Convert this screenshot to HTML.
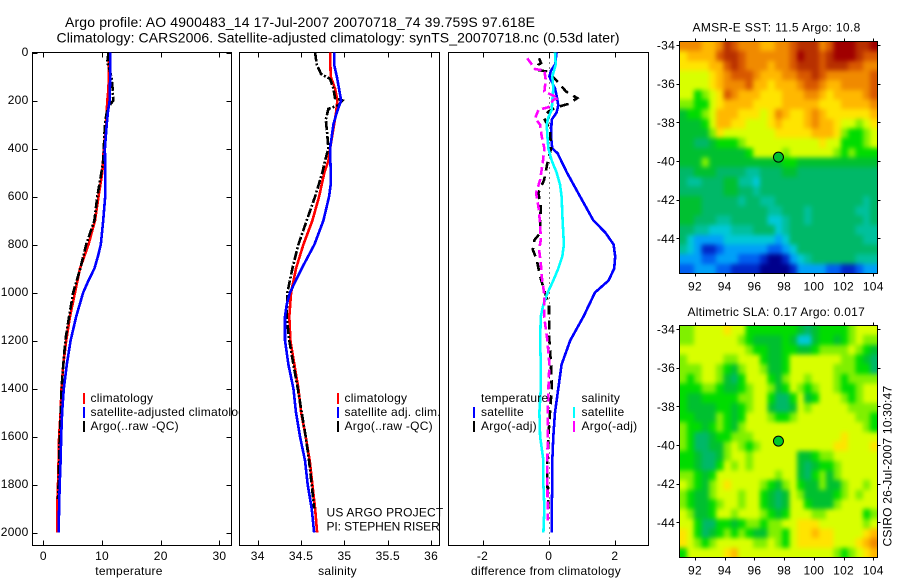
<!DOCTYPE html>
<html lang="en">
<head>
<meta charset="utf-8">
<title>Argo profile 4900483_14</title>
<style>
html,body{margin:0;padding:0;background:#fff;}
svg{display:block;}
text{font-family:"Liberation Sans",sans-serif;font-size:12px;fill:#000;letter-spacing:.25px;}
.big{font-size:14px;letter-spacing:0;}
</style>
</head>
<body>
<svg id="chart" xmlns="http://www.w3.org/2000/svg" width="900" height="580" viewBox="0 0 900 580">
  <defs>
    <filter id="mapSmooth" x="-5%" y="-5%" width="110%" height="110%" color-interpolation-filters="sRGB">
      <feGaussianBlur stdDeviation="2.4"/>
    </filter>
    <clipPath id="tempClip"><rect x="0" y="0" width="239" height="580"/></clipPath>
    <clipPath id="sstClip"><rect x="679.5" y="41.5" width="198" height="232"/></clipPath>
    <clipPath id="slaClip"><rect x="679.5" y="325.5" width="198" height="232"/></clipPath>
  </defs>
  <rect x="0" y="0" width="900" height="580" fill="#fff"/>
  <text class="big" x="65" y="27" textLength="470">Argo profile: AO 4900483_14 17-Jul-2007 20070718_74 39.759S 97.618E</text>
  <text class="big" x="56.5" y="42.5" textLength="563">Climatology: CARS2006. Satellite-adjusted climatology: synTS_20070718.nc (0.53d later)</text>
  <g id="layer"></g>
  <g id="legends">
    <g>
      <rect x="83" y="393" width="2" height="11" fill="#f00"/>
      <text x="90.5" y="402">climatology</text>
      <rect x="83" y="407" width="2" height="11" fill="#00f"/>
      <text clip-path="url(#tempClip)" x="90.5" y="416">satellite-adjusted climatology</text>
      <rect x="83" y="421" width="2" height="11" fill="#000"/>
      <text x="90.5" y="430">Argo(..raw -QC)</text>
    </g>
    <g>
      <rect x="337" y="393" width="2" height="11" fill="#f00"/>
      <text x="344.5" y="402">climatology</text>
      <rect x="337" y="407" width="2" height="11" fill="#00f"/>
      <text x="344.5" y="416">satellite adj. clim.</text>
      <rect x="337" y="421" width="2" height="11" fill="#000"/>
      <text x="344.5" y="430">Argo(..raw -QC)</text>
      <text x="326.5" y="516.5" textLength="117">US ARGO PROJECT</text>
      <text x="326.5" y="530.5" textLength="113.5">PI: STEPHEN RISER</text>
    </g>
    <g>
      <text x="481" y="402">temperature</text>
      <rect x="473" y="407" width="2" height="11" fill="#00f"/>
      <text x="481" y="416">satellite</text>
      <rect x="473" y="421" width="2" height="11" fill="#000"/>
      <text x="481" y="430">Argo(-adj)</text>
      <text x="581.5" y="402">salinity</text>
      <rect x="573" y="407" width="2" height="11" fill="#0ff"/>
      <text x="581.5" y="416">satellite</text>
      <rect x="573" y="421" width="2" height="11" fill="#f0f"/>
      <text x="581.5" y="430">Argo(-adj)</text>
    </g>
  </g>
  <text x="129" y="575" text-anchor="middle">temperature</text>
  <text x="337.5" y="575" text-anchor="middle">salinity</text>
  <text x="546" y="575" text-anchor="middle">difference from climatology</text>
  <text x="692.5" y="31.5" textLength="168">AMSR-E SST: 11.5 Argo: 10.8</text>
  <text x="687.5" y="316" textLength="177.5">Altimetric SLA: 0.17 Argo: 0.017</text>
  <text transform="translate(891.5,546.5) rotate(-90)" textLength="161">CSIRO 26-Jul-2007 10:30:47</text>
</svg>
<script>
// ---- axis tick values ----
var depthTicks = [0, 200, 400, 600, 800, 1000, 1200, 1400, 1600, 1800, 2000];
var tempTicks = [0, 10, 20, 30];
var salTicks = [34, 34.5, 35, 35.5, 36];
var salTickLabels = ['34', '34.5', '35', '35.5', '36'];
var diffTicks = [-2, 0, 2];
var lonTicks = [92, 94, 96, 98, 100, 102, 104];
var latTicks = [-34, -36, -38, -40, -42, -44];

// ---- temperature panel ----
var climTempDepth = [0,150,200,300,400,500,600,700,800,900,1000,1100,1200,1300,1400,1500,1600,1700,1800,1900,2000];
var climTemp = [11.2,11.1,10.9,10.7,10.3,10.05,9.4,8.8,7.7,6.25,5.4,4.55,3.9,3.4,3.1,2.95,2.7,2.6,2.5,2.35,2.35];
var satTempDepth = [0,100,200,250,300,400,500,600,700,800,850,900,950,1000,1100,1200,1300,1400,1500,1600,1700,1800,1900,2000];
var satTemp = [11.4,11.4,11.3,11.0,10.8,10.5,10.55,10.55,10.2,9.8,9.3,8.7,7.7,6.8,5.6,4.65,4.0,3.5,3.2,3.05,2.95,2.8,2.7,2.6];
var argoTempDepth = [0,40,100,150,200,220,250,300,400,450,500,600,700,800,900,1000,1100,1200,1300,1400,1500,1600,1700,1800,1860];
var argoTemp = [11.1,10.9,11.6,11.8,11.9,11.3,10.8,10.5,10.3,10.2,9.9,9.2,8.7,7.3,6.3,5.1,4.4,3.75,3.4,3.1,3.0,2.8,2.7,2.6,2.5];

// ---- salinity panel ----
var climSalDepth = [0,100,150,200,250,300,400,450,500,600,700,800,900,1000,1100,1200,1300,1400,1500,1600,1700,1800,1900,2000];
var climSal = [34.835,34.842,34.892,34.919,34.904,34.881,34.835,34.815,34.769,34.708,34.631,34.527,34.442,34.385,34.365,34.377,34.423,34.469,34.5,34.554,34.6,34.631,34.662,34.685];
var satSalDepth = [0,50,100,150,200,250,300,400,500,550,600,700,800,900,1000,1050,1100,1200,1300,1400,1500,1600,1700,1800,1900,2000];
var satSal = [34.885,34.881,34.912,34.938,34.962,34.912,34.873,34.835,34.842,34.842,34.823,34.758,34.654,34.508,34.373,34.335,34.315,34.315,34.354,34.412,34.442,34.488,34.546,34.577,34.623,34.65];
var argoSalDepth = [0,50,90,110,150,190,200,220,235,280,350,400,450,500,600,700,800,900,1000,1100,1200,1300,1400,1500,1600,1700,1800,1900];
var argoSal = [34.662,34.681,34.731,34.835,34.873,34.892,34.977,34.93,34.815,34.785,34.804,34.815,34.777,34.746,34.662,34.565,34.469,34.4,34.342,34.335,34.365,34.412,34.462,34.508,34.554,34.592,34.623,34.65];

// ---- difference panel ----
var satTempDiffDepth = [0,50,75,100,150,180,220,250,280,350,400,420,500,600,700,750,800,850,900,950,1000,1100,1200,1300,1400,1500,1600,1700,1800,1900,2000];
var satTempDiff = [.24,.19,.07,.02,.19,.24,.29,.24,.09,.07,.11,.27,.55,.95,1.35,1.71,1.96,2.01,1.98,1.81,1.40,1.05,.65,.39,.29,.19,.14,.11,.11,.09,.09];
var satSalDiffDepth = [0,50,100,150,200,240,270,300,350,400,450,500,550,600,700,800,850,900,950,1000,1050,1100,1200,1300,1400,1500,1600,1700,1800,1900,2000];
var satSalDiff = [.19,.21,.11,.14,.11,.09,-.01,-.06,-.04,-.01,.09,.24,.34,.39,.42,.46,.41,.29,.14,-.03,-.16,-.24,-.26,-.24,-.24,-.28,-.26,-.16,-.16,-.13,-.16];
var argoTempDiffDepth = [24,44,51,72,79,114,162,190,214,228,246,274,322,400,461,531,586,642,711,753,781,822,864,933,1003,1050,1100,1200,1300,1400,1500,1600,1700,1800,1900];
var argoTempDiff = [-.29,-.23,-.31,-.36,-.06,.22,.52,.86,.6,.24,-.01,-.14,.04,.07,-.04,-.14,-.31,-.24,-.26,-.26,-.43,-.48,-.36,-.26,-.11,.01,.01,.02,.07,.09,.04,-.01,-.04,-.04,-.01];
var argoSalDiffDepth = [24,44,69,75,114,162,190,197,228,239,274,301,350,400,461,531,586,642,711,781,822,878,933,1003,1050,1100,1200,1300,1400,1500,1600,1700,1800,1900,1950];
var argoSalDiff = [-.65,-.54,-.41,-.13,-.09,-.13,.29,.14,-.01,-.31,-.41,-.26,-.21,-.13,-.18,-.26,-.38,-.31,-.26,-.24,-.29,-.24,-.21,-.14,-.14,-.14,-.04,.02,-.01,-.03,-.03,-.04,-.04,-.03,-.03];

// ---- map values: colour-class index per cell, north to south, west to east ----
var sstGrid = [
[13,13,13,12,12,13,15,14,13,13,13,12,12,13,13,14,15,15,15,13,14,16,16,16,15,15,16],
[11,12,12,12,12,14,15,15,14,13,13,13,13,13,13,14,16,15,15,14,15,16,16,16,15,14,14],
[11,11,11,11,12,12,14,15,14,13,13,13,12,13,13,14,15,15,15,14,15,15,15,14,14,13,13],
[10,10,10,10,11,12,13,14,14,14,13,12,12,12,13,13,14,14,15,14,13,13,13,13,13,13,14],
[10,10,10,10,11,12,13,13,13,14,12,12,11,12,12,12,13,14,14,13,12,12,13,13,13,13,14],
[10,10,8,9,10,11,14,13,12,12,12,11,11,11,12,12,12,13,13,12,11,12,12,12,12,13,14],
[9,9,8,8,10,11,12,12,12,12,11,11,11,11,12,12,12,12,12,11,11,11,12,12,12,12,13],
[7,8,8,9,10,12,12,12,11,11,11,10,11,13,12,11,11,12,13,12,11,11,11,11,11,11,12],
[7,7,7,8,10,12,12,11,11,10,10,10,11,12,11,11,11,12,13,12,12,11,10,10,9,10,11],
[7,7,7,7,9,11,10,10,10,10,10,10,10,11,11,11,11,11,12,12,12,11,9,8,8,9,10],
[7,7,6,6,7,8,8,8,9,10,10,10,10,10,10,10,10,10,10,11,10,10,8,8,8,9,10],
[7,7,7,7,7,7,7,7,7,8,10,10,10,10,9,10,10,10,10,10,10,9,8,9,8,8,8],
[7,7,7,9,7,7,7,7,7,7,7,7,7,7,8,8,7,7,7,7,7,7,7,7,7,7,7],
[6,6,7,7,7,6,6,6,6,5,5,6,6,6,7,7,6,6,6,6,6,6,6,6,6,6,6],
[6,5,5,6,6,6,7,7,5,5,4,6,6,6,6,6,6,6,6,6,6,6,6,6,6,6,6],
[6,6,6,6,6,6,7,7,6,6,5,6,6,6,6,6,6,6,6,6,6,6,6,6,6,6,6],
[7,7,7,6,6,6,6,6,5,6,6,5,5,6,6,6,6,6,6,6,6,6,6,6,6,5,6],
[7,7,7,6,6,6,6,6,6,6,6,6,5,5,6,6,6,5,6,6,6,6,6,6,5,5,6],
[7,7,6,6,6,5,5,6,6,6,6,6,4,4,5,6,6,5,6,6,6,6,6,6,6,5,6],
[6,6,5,5,4,4,4,5,5,5,6,6,6,4,5,6,6,6,6,6,6,6,6,6,5,5,5],
[6,4,3,3,3,3,4,4,4,4,4,4,4,3,4,6,6,6,6,6,6,6,6,6,6,5,5],
[5,4,3,1,1,2,3,3,3,3,3,3,2,2,3,4,6,6,6,6,6,6,6,6,6,6,6],
[3,3,3,2,2,3,3,3,2,2,2,1,0,0,1,3,4,5,6,6,6,6,6,6,5,5,5],
[2,2,3,3,3,2,2,1,1,1,1,0,0,0,0,1,3,3,3,3,2,2,1,1,2,3,3]
];
var slaGrid = [
[9,9,10,10,10,10,11,10,10,8,8,8,8,8,8,8,7,6,7,8,8,8,8,9,10,10,10],
[9,9,10,10,10,10,10,10,9,8,7,7,7,7,8,7,4,4,7,8,8,7,8,9,10,9,9],
[10,10,10,10,10,10,10,10,10,9,8,8,7,7,8,8,7,7,8,9,9,9,9,10,9,8,7],
[9,10,10,10,10,10,9,9,10,10,10,8,7,7,8,10,10,10,10,10,10,10,9,9,8,7,6],
[9,9,9,10,10,9,8,7,9,10,10,9,7,7,8,10,10,10,10,10,10,9,9,9,8,8,6],
[9,8,9,10,10,9,7,6,8,10,10,10,8,7,9,10,10,9,10,10,10,9,8,9,9,9,9],
[8,8,8,9,9,8,7,7,8,9,10,10,9,7,8,10,9,8,9,10,10,9,8,8,9,10,10],
[8,7,7,8,8,8,8,8,9,9,10,10,8,6,6,8,10,7,8,10,10,10,9,8,9,10,10],
[8,7,7,7,7,8,8,7,8,9,10,10,7,6,6,7,10,9,10,10,10,10,10,9,9,9,9],
[8,8,7,7,7,9,8,7,8,10,10,10,9,8,8,9,10,10,10,10,10,10,10,10,9,9,8],
[9,8,8,7,8,9,8,7,9,10,10,10,10,10,10,10,10,10,10,10,10,10,10,10,10,9,8],
[9,8,6,6,7,8,8,9,9,9,10,10,10,10,10,10,10,10,10,10,10,10,11,10,10,10,10],
[9,8,6,6,7,7,9,10,9,8,9,10,10,10,10,10,10,10,10,10,10,11,11,10,10,10,11],
[8,8,7,6,6,7,9,10,10,9,10,10,10,10,10,10,7,7,8,9,9,10,10,10,10,10,10],
[8,8,7,6,6,8,10,9,10,9,10,10,10,10,10,10,7,6,7,8,8,9,10,10,10,10,10],
[9,9,8,7,8,10,10,10,10,10,10,10,10,9,10,10,7,6,8,9,7,9,10,10,10,10,10],
[10,9,8,7,9,10,11,10,10,10,10,9,8,7,9,10,8,7,7,9,7,7,9,10,10,9,10],
[9,8,7,7,9,10,10,10,9,10,10,8,7,6,7,10,9,7,7,7,7,8,9,10,9,10,10],
[9,8,7,7,8,9,10,10,9,10,10,8,7,6,7,10,10,8,7,7,7,9,10,10,10,10,10],
[10,9,7,7,8,10,10,9,10,10,10,9,8,7,8,10,10,10,9,9,10,10,10,10,10,8,9],
[10,10,8,6,6,8,8,7,8,9,9,8,9,9,10,10,11,11,11,10,10,10,10,10,10,9,10],
[11,10,8,6,7,8,9,8,9,8,7,7,9,9,8,10,11,11,12,11,11,10,10,10,10,11,12],
[11,10,9,8,9,10,10,10,10,10,9,9,10,9,8,10,11,11,11,11,11,10,10,10,11,12,13],
[8,10,10,10,10,10,11,12,10,10,10,10,10,10,10,10,10,10,10,10,10,9,8,9,10,11,12]
];
var argoLon = [97.618];
var argoLat = [-39.759];
var sstColours = ['#00008c','#0028c8','#0060f0','#00a0f8','#00c8d8','#00c09c','#00b868','#00c030','#00dc00','#80f000','#d8ff00','#ffe400','#ffb800','#f08a00','#d85800','#b83000','#a00000'];

var svgNS = 'http://www.w3.org/2000/svg';
var layer = document.getElementById('layer');
var PANEL_TOP = 52.5, PANEL_BOTTOM = 545.5;

function yDepth(d) { return 52.5 + d * 0.24; }
function xTemp(v) { return 43.3 + v * 5.87; }
function xSal(v) { return 257.7 + (v - 34) * 86.7; }
function xDiff(v) { return 548.7 + v * 33.1; }
function xLon(v) { return 680.1 + (v - 91) * 14.86; }
function ySst(v) { return 45 + (-34 - v) * 19.33; }
function ySla(v) { return 329 + (-34 - v) * 19.33; }

function addLine(parent, x1, y1, x2, y2) {
  var el = document.createElementNS(svgNS, 'line');
  
  
  el.setAttribute('x1', x1);
  el.setAttribute('y1', y1);
  el.setAttribute('x2', x2);
  el.setAttribute('y2', y2);
  el.setAttribute('stroke', '#000');
  el.setAttribute('stroke-width', '1');
  el.setAttribute('shape-rendering', 'crispEdges');
  parent.appendChild(el);
}
function addLabel(parent, x, y, str, anchor) {
  var el = document.createElementNS(svgNS, 'text');
  
  
  el.setAttribute('x', x);
  el.setAttribute('y', y);
  el.setAttribute('text-anchor', anchor);
  el.textContent = str;
  parent.appendChild(el);
}
function addFrame(parent, x, y, w, h, fill) {
  var el = document.createElementNS(svgNS, 'rect');
  
  
  el.setAttribute('x', x);
  el.setAttribute('y', y);
  el.setAttribute('width', w);
  el.setAttribute('height', h);
  el.setAttribute('fill', fill);
  el.setAttribute('stroke', '#000');
  el.setAttribute('stroke-width', '1');
  el.setAttribute('shape-rendering', 'crispEdges');
  parent.appendChild(el);
}
function addSeries(parent, name, values, depths, xFn, colour, width, dash) {
  var el = document.createElementNS(svgNS, 'polyline');
  
  
  var pts = [];
  for (var i = 0; i < values.length; i++) {
    pts.push(xFn(values[i]).toFixed(1) + ',' + yDepth(depths[i]).toFixed(1));
  }
  el.setAttribute('points', pts.join(' '));
  el.setAttribute('fill', 'none');
  el.setAttribute('stroke', colour);
  el.setAttribute('stroke-width', width);
  if (dash) el.setAttribute('stroke-dasharray', dash);
  el.setAttribute('shape-rendering', 'crispEdges');
  parent.appendChild(el);
}

function makePanel(name, left, right, xFn, ticks, labels, showDepth) {
  var g = document.createElementNS(svgNS, 'g');
  
  
  addFrame(g, left, PANEL_TOP, right - left, PANEL_BOTTOM - PANEL_TOP, '#fff');
  ticks.forEach(function (t, i) {
    var x = Math.round(xFn(t)) + 0.5;
    addLine(g, x, PANEL_TOP, x, PANEL_TOP + 5);
    addLine(g, x, PANEL_BOTTOM, x, PANEL_BOTTOM - 5);
    addLabel(g, xFn(t), 560, labels[i], 'middle');
  });
  if (showDepth) {
    depthTicks.forEach(function (d) {
      var y = Math.round(yDepth(d)) + 0.5;
      addLine(g, left, y, left + 5, y);
      addLine(g, right, y, right - 5, y);
      addLabel(g, 28.5, yDepth(d) + 3.7, String(d), 'end');
    });
  }
  layer.appendChild(g);
  return g;
}

var tempPanel = makePanel('temperature-panel', 32.5, 231.5, xTemp, tempTicks, tempTicks.map(String), true);
addSeries(tempPanel, 'climatology-temperature-line', climTemp, climTempDepth, xTemp, '#f00', 2.6, null);
addSeries(tempPanel, 'argo-temperature-line', argoTemp, argoTempDepth, xTemp, '#000', 2.6, '9 2 2 2');
addSeries(tempPanel, 'satellite-temperature-line', satTemp, satTempDepth, xTemp, '#00f', 2.6, null);

var salPanel = makePanel('salinity-panel', 239.5, 439.5, xSal, salTicks, salTickLabels, false);
addSeries(salPanel, 'climatology-salinity-line', climSal, climSalDepth, xSal, '#f00', 2.6, null);
addSeries(salPanel, 'argo-salinity-line', argoSal, argoSalDepth, xSal, '#000', 2.6, '9 2 2 2');
addSeries(salPanel, 'satellite-salinity-line', satSal, satSalDepth, xSal, '#00f', 2.6, null);

var diffPanel = makePanel('difference-panel', 448.5, 648.5, xDiff, diffTicks, diffTicks.map(String), false);
var zeroLine = document.createElementNS(svgNS, 'line');


zeroLine.setAttribute('x1', Math.round(xDiff(0)) + 0.5);
zeroLine.setAttribute('x2', Math.round(xDiff(0)) + 0.5);
zeroLine.setAttribute('y1', PANEL_TOP);
zeroLine.setAttribute('y2', PANEL_BOTTOM);
zeroLine.setAttribute('stroke', '#000');
zeroLine.setAttribute('stroke-width', '1');
zeroLine.setAttribute('stroke-dasharray', '1 4');
zeroLine.setAttribute('shape-rendering', 'crispEdges');
diffPanel.appendChild(zeroLine);
addSeries(diffPanel, 'satellite-temperature-difference-line', satTempDiff, satTempDiffDepth, xDiff, '#00f', 2.6, null);
addSeries(diffPanel, 'argo-temperature-difference-line', argoTempDiff, argoTempDiffDepth, xDiff, '#000', 2.6, '9 6');
addSeries(diffPanel, 'satellite-salinity-difference-line', satSalDiff, satSalDiffDepth, xDiff, '#0ff', 2.6, null);
addSeries(diffPanel, 'argo-salinity-difference-line', argoSalDiff, argoSalDiffDepth, xDiff, '#f0f', 2.6, '8 4');

function makeMap(name, grid, yFn, top, bottom, markerFill, clipId) {
  var g = document.createElementNS(svgNS, 'g');
  
  
  var left = 679.5, right = 877.5;
  var cw = (right - left) / grid[0].length;
  var ch = (bottom - top) / grid.length;
  var clipGroup = document.createElementNS(svgNS, 'g');
  
  
  clipGroup.setAttribute('clip-path', 'url(#' + clipId + ')');
  var cells = document.createElementNS(svgNS, 'g');
  
  
  cells.setAttribute('filter', 'url(#mapSmooth)');
  var pad = 10;
  grid.forEach(function (row, r) {
    row.forEach(function (val, c) {
      var cell = document.createElementNS(svgNS, 'rect');
      
      
      // outermost cells reach past the frame so the smoothing keeps full colour at the edges
      var x0 = left + c * cw - (c === 0 ? pad : 0);
      var x1 = left + (c + 1) * cw + (c === row.length - 1 ? pad : 0.5);
      var y0 = top + r * ch - (r === 0 ? pad : 0);
      var y1 = top + (r + 1) * ch + (r === grid.length - 1 ? pad : 0.5);
      cell.setAttribute('x', x0.toFixed(2));
      cell.setAttribute('y', y0.toFixed(2));
      cell.setAttribute('width', (x1 - x0).toFixed(2));
      cell.setAttribute('height', (y1 - y0).toFixed(2));
      cell.setAttribute('fill', sstColours[val]);
      cell.setAttribute('shape-rendering', 'crispEdges');
      cells.appendChild(cell);
    });
  });
  clipGroup.appendChild(cells);
  g.appendChild(clipGroup);
  addFrame(g, left, top, right - left, bottom - top, 'none');
  lonTicks.forEach(function (lon) {
    var x = Math.round(xLon(lon)) + 0.5;
    addLine(g, x, top, x, top - 3);
    addLine(g, x, bottom, x, bottom + 3);
    addLabel(g, xLon(lon), bottom + 17, String(lon), 'middle');
  });
  latTicks.forEach(function (lat) {
    var y = Math.round(yFn(lat)) + 0.5;
    addLine(g, left, y, left - 3, y);
    addLine(g, right, y, right + 3, y);
    addLabel(g, 675, yFn(lat) + 4.5, String(lat), 'end');
  });
  var mark = document.createElementNS(svgNS, 'circle');
  
  
  mark.setAttribute('cx', xLon(argoLon[0]));
  mark.setAttribute('cy', yFn(argoLat[0]) + 0.8);
  mark.setAttribute('r', 5);
  mark.setAttribute('fill', markerFill);
  mark.setAttribute('stroke', '#000');
  mark.setAttribute('stroke-width', '1');
  g.appendChild(mark);
  layer.appendChild(g);
}
makeMap('sst-map', sstGrid, ySst, 41.5, 273.5, '#00c030', 'sstClip');
makeMap('sla-map', slaGrid, ySla, 325.5, 557.5, '#00c828', 'slaClip');
</script>
</body>
</html>
